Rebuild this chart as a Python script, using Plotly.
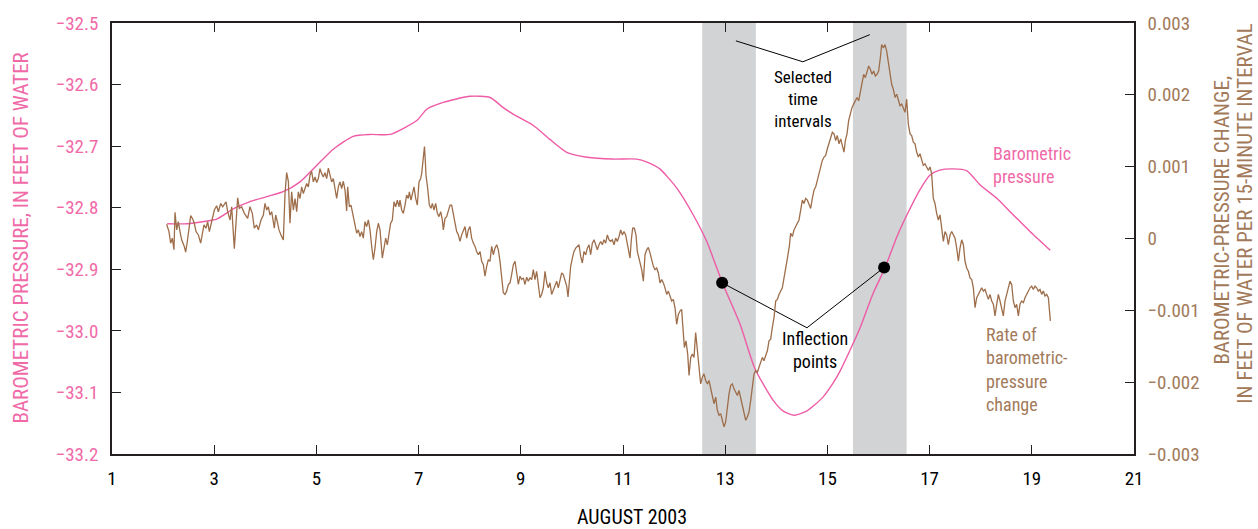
import plotly.graph_objects as go

# ---------------- data ----------------
# Barometric pressure (feet of water), left axis
press_day = [2.08, 2.47, 3.06, 3.37, 3.70, 4.35, 4.68, 5.01, 5.33, 5.72, 6.05, 6.44, 6.97, 7.16,
             7.48, 8.01, 8.40, 8.65, 8.85, 9.24, 9.57, 9.90, 10.30, 10.80, 11.27, 11.47, 11.72,
             12.06, 12.37, 12.64, 12.94, 13.29, 13.58, 13.94, 14.13, 14.35, 14.60, 14.91, 15.11,
             15.25, 15.44, 15.64, 15.89, 16.13, 16.36, 16.56, 16.81, 17.01, 17.20, 17.46, 17.73,
             17.99, 18.32, 18.57, 18.97, 19.36]
press_val = [-32.826, -32.826, -32.818, -32.802, -32.790, -32.774, -32.758, -32.731, -32.705,
             -32.684, -32.681, -32.681, -32.658, -32.640, -32.629, -32.619, -32.621, -32.637,
             -32.648, -32.666, -32.689, -32.710, -32.718, -32.721, -32.721, -32.726, -32.737,
             -32.769, -32.811, -32.855, -32.921, -32.989, -33.061, -33.113, -33.130, -33.137,
             -33.130, -33.108, -33.085, -33.065, -33.032, -32.995, -32.940, -32.897, -32.847,
             -32.811, -32.771, -32.747, -32.739, -32.737, -32.740, -32.763, -32.785, -32.806,
             -32.839, -32.869]

# Rate of barometric-pressure change (thousandths of a foot per 15 minutes), right axis
rate_pairs = [
    (2.07, 0.198), (2.115, 0.096), (2.148, -0.065), (2.181, 0.004), (2.213, -0.157), (2.233, 0.364),
    (2.266, 0.120), (2.298, 0.235), (2.331, 0.096), (2.363, -0.019), (2.415, -0.111), (2.442, -0.189),
    (2.474, -0.042), (2.507, 0.166), (2.54, 0.318), (2.579, 0.272), (2.611, 0.212), (2.644, 0.096),
    (2.69, 0.050), (2.735, -0.065), (2.768, 0.096), (2.8, 0.189), (2.84, 0.143), (2.872, 0.235),
    (2.905, 0.096), (2.937, 0.198), (3.003, 0.396), (3.048, 0.456), (3.081, 0.373), (3.127, 0.488),
    (3.166, 0.442), (3.231, 0.511), (3.264, 0.373), (3.309, 0.258), (3.342, 0.442), (3.394, -0.143),
    (3.427, 0.212), (3.459, 0.567), (3.492, 0.419), (3.537, 0.442), (3.59, 0.350), (3.655, 0.281),
    (3.7, 0.442), (3.746, 0.350), (3.785, 0.143), (3.831, 0.189), (3.864, 0.120), (3.916, 0.258),
    (3.962, 0.327), (3.994, 0.488), (4.027, 0.396), (4.059, 0.442), (4.092, 0.327), (4.125, 0.373),
    (4.177, 0.143), (4.203, 0.327), (4.242, 0.212), (4.268, 0.120), (4.307, 0.050), (4.353, -0.019),
    (4.386, 0.626), (4.418, 0.917), (4.451, 0.797), (4.483, 0.212), (4.516, 0.649), (4.549, 0.396),
    (4.581, 0.557), (4.614, 0.373), (4.646, 0.649), (4.679, 0.557), (4.712, 0.719), (4.744, 0.626),
    (4.777, 0.696), (4.81, 0.765), (4.842, 0.719), (4.875, 0.880), (4.907, 0.935), (4.94, 0.788),
    (4.973, 0.857), (5.005, 0.779), (5.038, 0.834), (5.07, 0.972), (5.103, 0.903), (5.136, 0.857),
    (5.168, 0.917), (5.201, 0.834), (5.234, 0.981), (5.266, 0.903), (5.299, 0.788), (5.331, 0.834),
    (5.364, 0.719), (5.397, 0.557), (5.429, 0.719), (5.462, 0.788), (5.494, 0.696), (5.527, 0.797),
    (5.56, 0.673), (5.592, 0.382), (5.612, 0.719), (5.645, 0.442), (5.677, 0.465), (5.71, 0.350),
    (5.742, 0.212), (5.788, 0.074), (5.821, 0.120), (5.853, 0.027), (5.886, 0.096), (5.918, 0.004),
    (5.951, 0.235), (5.984, 0.166), (6.016, 0.258), (6.049, 0.120), (6.082, -0.111), (6.114, -0.295),
    (6.147, -0.134), (6.18, 0.096), (6.212, 0.212), (6.245, 0.120), (6.29, -0.272), (6.329, -0.111),
    (6.356, 0.004), (6.388, -0.088), (6.421, 0.096), (6.453, 0.212), (6.486, 0.258), (6.519, 0.511),
    (6.551, 0.442), (6.584, 0.534), (6.616, 0.442),
    (6.636, 0.535), (6.669, 0.397), (6.701, 0.350), (6.734, 0.466), (6.766, 0.604), (6.799, 0.558),
    (6.819, 0.650), (6.851, 0.535), (6.884, 0.627), (6.91, 0.719), (6.943, 0.558), (6.975, 0.466),
    (7.008, 0.788), (7.04, 0.834), (7.06, 0.903), (7.08, 1.042), (7.1, 1.18), (7.115, 1.28),
    (7.13, 1.10), (7.145, 0.880), (7.178, 0.696), (7.21, 0.466), (7.243, 0.420), (7.269, 0.489),
    (7.301, 0.397), (7.334, 0.489), (7.367, 0.350), (7.399, 0.304), (7.432, 0.374), (7.464, 0.258),
    (7.484, 0.120), (7.517, 0.281), (7.549, 0.304), (7.582, 0.397), (7.615, 0.466), (7.647, 0.466),
    (7.68, 0.327), (7.712, 0.189), (7.745, 0.097), (7.778, 0.051), (7.81, -0.041), (7.843, 0.051),
    (7.875, 0.120), (7.908, 0.166), (7.941, 0.005), (7.973, 0.120), (8.006, 0.166), (8.038, 0.005),
    (8.071, -0.064), (8.104, -0.110), (8.136, -0.180), (8.169, -0.226), (8.202, -0.180), (8.234, -0.318),
    (8.267, -0.364), (8.299, -0.525), (8.332, -0.387), (8.365, -0.295), (8.397, -0.318), (8.43, -0.110),
    (8.463, -0.226), (8.495, -0.134), (8.528, -0.087), (8.56, -0.157), (8.593, -0.318), (8.626, -0.548),
    (8.658, -0.756), (8.691, -0.779), (8.723, -0.733), (8.756, -0.640), (8.789, -0.617), (8.821, -0.502),
    (8.854, -0.364), (8.887, -0.318), (8.919, -0.456), (8.952, -0.640), (8.984, -0.525), (9.017, -0.571),
    (9.05, -0.548), (9.082, -0.640), (9.115, -0.539), (9.147, -0.594), (9.18, -0.548), (9.213, -0.571),
    (9.245, -0.433), (9.278, -0.571), (9.31, -0.456), (9.343, -0.686), (9.376, -0.825), (9.408, -0.779),
    (9.441, -0.686), (9.474, -0.456), (9.506, -0.617), (9.539, -0.686), (9.571, -0.617), (9.604, -0.779),
    (9.637, -0.709), (9.669, -0.663), (9.702, -0.594), (9.734, -0.686), (9.767, -0.571), (9.8, -0.479),
    (9.832, -0.502), (9.865, -0.571), (9.898, -0.663), (9.924, -0.815), (9.95, -0.594), (9.976, -0.387),
    (10.009, -0.272), (10.041, -0.180), (10.074, -0.134), (10.107, -0.110), (10.139, -0.087),
    (10.172, -0.249), (10.204, -0.341), (10.237, -0.180), (10.27, -0.226), (10.302, -0.134),
    (10.335, -0.087), (10.367, -0.226), (10.4, -0.064), (10.433, -0.018), (10.465, -0.087),
    (10.498, -0.157), (10.53, -0.087), (10.563, -0.041), (10.596, -0.087), (10.628, -0.018),
    (10.661, -0.064), (10.694, 0.051), (10.726, -0.018), (10.759, -0.041), (10.791, -0.018),
    (10.824, -0.087), (10.857, 0.005), (10.889, -0.041), (10.922, 0.028), (10.955, 0.120),
    (10.987, 0.051), (11.02, 0.097), (11.052, 0.051), (11.085, -0.064), (11.118, -0.180),
    (11.137, -0.272), (11.163, -0.018), (11.189, 0.143), (11.222, 0.143), (11.254, 0.051),
    (11.28, -0.180), (11.313, -0.272),
    (11.333, -0.342), (11.366, -0.434), (11.398, -0.595), (11.431, -0.226), (11.463, -0.157),
    (11.496, -0.125), (11.529, -0.203), (11.561, -0.295), (11.594, -0.388), (11.627, -0.434),
    (11.659, -0.411), (11.692, -0.480), (11.724, -0.618), (11.757, -0.572), (11.79, -0.618),
    (11.822, -0.687), (11.855, -0.779), (11.887, -0.733), (11.92, -0.802), (11.953, -0.871),
    (11.985, -0.848), (12.018, -0.964), (12.05, -1.194), (12.083, -1.056), (12.116, -1.010),
    (12.148, -0.987), (12.168, -1.194), (12.201, -1.517), (12.233, -1.425), (12.266, -1.609),
    (12.292, -1.908), (12.325, -1.655), (12.357, -1.609), (12.39, -1.655), (12.422, -1.309),
    (12.455, -1.586), (12.488, -1.862), (12.52, -2.024), (12.553, -1.931), (12.585, -1.885),
    (12.618, -1.977), (12.651, -2.024), (12.683, -1.977), (12.716, -2.093), (12.749, -2.162),
    (12.781, -2.300), (12.814, -2.208), (12.846, -2.392), (12.879, -2.461), (12.912, -2.438),
    (12.944, -2.530), (12.977, -2.623), (13.009, -2.554), (13.042, -2.346), (13.075, -2.162),
    (13.107, -2.047), (13.14, -2.024), (13.172, -2.093), (13.205, -2.139), (13.238, -2.185),
    (13.27, -2.116), (13.303, -2.231), (13.335, -2.323), (13.368, -2.438), (13.401, -2.530),
    (13.433, -2.484), (13.466, -2.415), (13.499, -2.254), (13.531, -2.070), (13.564, -1.885),
    (13.596, -1.839), (13.629, -1.862), (13.662, -1.793), (13.694, -1.724), (13.727, -1.655),
    (13.759, -1.701), (13.792, -1.632), (13.825, -1.563), (13.857, -1.425), (13.89, -1.402),
    (13.922, -1.240), (13.955, -1.102), (13.988, -0.871), (14.02, -0.848), (14.053, -0.779),
    (14.085, -0.733), (14.118, -0.687), (14.151, -0.549), (14.183, -0.434), (14.216, -0.28),
    (14.255, -0.111), (14.281, 0.074), (14.314, 0.028), (14.347, 0.120), (14.379, 0.166),
    (14.412, 0.212), (14.444, 0.258), (14.477, 0.396), (14.51, 0.534), (14.542, 0.488),
    (14.575, 0.557), (14.608, 0.534), (14.64, 0.488), (14.673, 0.419), (14.705, 0.557),
    (14.738, 0.673), (14.771, 0.719), (14.803, 0.811), (14.836, 0.903), (14.868, 1.018),
    (14.901, 1.087), (14.934, 1.134), (14.966, 1.157), (14.999, 1.249), (15.031, 1.318),
    (15.064, 1.410), (15.097, 1.479), (15.129, 1.456), (15.162, 1.364), (15.194, 1.433),
    (15.227, 1.318), (15.26, 1.387), (15.292, 1.295), (15.325, 1.203), (15.351, 1.364),
    (15.384, 1.456), (15.416, 1.640), (15.449, 1.733), (15.482, 1.825), (15.514, 1.871),
    (15.547, 1.917), (15.579, 1.963), (15.612, 1.917), (15.645, 2.032), (15.677, 2.147),
    (15.71, 2.286), (15.743, 2.239), (15.775, 2.332), (15.808, 2.401), (15.84, 2.355),
    (15.873, 2.286), (15.905, 2.332), (15.938, 2.263), (15.971, 2.286), (16.003, 2.332),
    (16.036, 2.516), (16.062, 2.700), (16.095, 2.654), (16.127, 2.700), (16.16, 2.608),
    (16.193, 2.447), (16.225, 2.332), (16.258, 2.147), (16.29, 2.078), (16.323, 1.963),
    (16.356, 2.009), (16.388, 1.917), (16.421, 1.848), (16.454, 1.871), (16.486, 1.802),
    (16.519, 1.756), (16.551, 1.940), (16.584, 1.594), (16.617, 1.456), (16.649, 1.433),
    (16.682, 1.341), (16.714, 1.318), (16.747, 1.203), (16.78, 1.134), (16.812, 1.180),
    (16.845, 1.087), (16.877, 1.018), (16.91, 1.041), (16.943, 0.995), (16.975, 0.949),
    (17.008, 0.995), (17.04, 0.903), (17.073, 0.557), (17.105, 0.488), (17.138, 0.350),
    (17.171, 0.258), (17.204, 0.328),
    (17.237, 0.097), (17.269, -0.041), (17.302, 0.097), (17.334, 0.051), (17.367, -0.087),
    (17.4, 0.051), (17.432, 0.097), (17.465, 0.051), (17.498, 0.005), (17.53, -0.133),
    (17.563, -0.317), (17.595, -0.133), (17.628, -0.018), (17.661, -0.087), (17.693, -0.317),
    (17.726, -0.410), (17.759, -0.456), (17.791, -0.548), (17.824, -0.571), (17.856, -0.686),
    (17.889, -0.963), (17.922, -0.824), (17.954, -0.778), (17.987, -0.732), (18.019, -0.686),
    (18.052, -0.732), (18.085, -0.709), (18.117, -0.778), (18.15, -0.847), (18.182, -0.778),
    (18.215, -0.870), (18.248, -0.916), (18.28, -1.078), (18.313, -0.916), (18.345, -0.778),
    (18.378, -0.870), (18.411, -0.963), (18.443, -1.078), (18.476, -0.870), (18.509, -0.778),
    (18.541, -0.686), (18.574, -0.594), (18.606, -0.640), (18.639, -0.870), (18.672, -0.963),
    (18.704, -0.916), (18.737, -1.078), (18.769, -0.916), (18.802, -0.870), (18.835, -0.893),
    (18.867, -0.824), (18.9, -0.778), (18.932, -0.732), (18.965, -0.686), (18.998, -0.663),
    (19.03, -0.709), (19.063, -0.663), (19.095, -0.686), (19.128, -0.732), (19.161, -0.709),
    (19.193, -0.778), (19.226, -0.732), (19.259, -0.801), (19.291, -0.778), (19.324, -0.824),
    (19.344, -0.963), (19.363, -1.147),
]
rate_day = [p[0] for p in rate_pairs]
rate_val = [p[1] * 0.001 for p in rate_pairs]   # thousandths -> feet

# Selected time intervals (days)
interval_start = [12.55, 15.50]
interval_end = [13.60, 16.55]

# Inflection points on the pressure curve
inflect_day = [12.94, 16.11]
inflect_press = [-32.922, -32.897]

# Leader-line vertices for the two call-outs
inflect_label_vertex = (14.60, -32.995)
select_leader_day = [13.21, 14.52, 15.83]
select_leader_press = [-32.529, -32.563, -32.519]

# Axis ticks
x_ticks = [1, 3, 5, 7, 9, 11, 13, 15, 17, 19, 21]
left_ticks = [-33.2, -33.1, -33.0, -32.9, -32.8, -32.7, -32.6, -32.5]
right_ticks = [-0.003, -0.002, -0.001, 0, 0.001, 0.002, 0.003]
right_tick_text = ["\u22120.003", "\u22120.002", "\u22120.001", "0", "0.001", "0.002", "0.003"]

# ---------------- styling ----------------
PINK = "#EE5BA6"
PINK_TXT = "#F06AA8"
BROWN = "#9E6E4B"
BROWN_TXT = "#A27A5A"
AXIS = "#231F20"
FONT = "Liberation Sans Narrow, Roboto Condensed, Arial Narrow, Roboto, sans-serif"

fig = go.Figure()

fig.add_trace(go.Scatter(x=rate_day, y=rate_val, yaxis="y2", mode="lines",
                         line=dict(color=BROWN, width=1.3), hoverinfo="skip"))
fig.add_trace(go.Scatter(x=press_day, y=press_val, mode="lines",
                         line=dict(color=PINK, width=1.4, shape="spline", smoothing=0.6),
                         hoverinfo="skip"))

# leader lines
fig.add_trace(go.Scatter(x=[inflect_day[0], inflect_label_vertex[0], inflect_day[1]],
                         y=[inflect_press[0], inflect_label_vertex[1], inflect_press[1]],
                         mode="lines", line=dict(color="black", width=1), hoverinfo="skip"))
fig.add_trace(go.Scatter(x=select_leader_day, y=select_leader_press, mode="lines",
                         line=dict(color="black", width=1), hoverinfo="skip"))
fig.add_trace(go.Scatter(x=inflect_day, y=inflect_press, mode="markers",
                         marker=dict(color="black", size=12), hoverinfo="skip"))

for s, e in zip(interval_start, interval_end):
    fig.add_shape(type="rect", xref="x", yref="paper", x0=s, x1=e, y0=0, y1=1,
                  fillcolor="#D1D3D4", line=dict(width=0), layer="below")

ann = []
def txt(x, y, t, color="black", xanchor="center", size=18, xref="x", yref="y", angle=0,
        align="center"):
    ann.append(dict(x=x, y=y, xref=xref, yref=yref, text=t, showarrow=False,
                    xanchor=xanchor, yanchor="middle", textangle=angle, align=align,
                    font=dict(family=FONT, size=size, color=color)))

txt(14.52, -32.623, "Selected<br>time<br>intervals", size=17)
txt(14.76, -33.031, "Inflection<br>points", size=18)
txt(18.20, -32.731, "Barometric<br>pressure", PINK_TXT, "left", 18, align="left")
txt(18.07, -33.062, "Rate of<br>barometric-<br>pressure<br>change", BROWN_TXT, "left", 18,
    align="left")

txt(-0.090, 0.5, "BAROMETRIC PRESSURE, IN FEET OF WATER", PINK_TXT, "center", 21,
    "paper", "paper", -90)
txt(1.0861, 0.5438, "BAROMETRIC-PRESSURE CHANGE,", BROWN_TXT, "center", 21,
    "paper", "paper", -90)
txt(1.1086, 0.5576, "IN FEET OF WATER PER 15-MINUTE INTERVAL", BROWN_TXT, "center", 21,
    "paper", "paper", -90)
txt(0.5088, -0.1452, "AUGUST 2003", "black", "center", 20, "paper", "paper", 0)

fig.update_layout(
    width=1258, height=529,
    margin=dict(l=112, r=124, t=20, b=75),
    plot_bgcolor="white", paper_bgcolor="white",
    showlegend=False,
    font=dict(family=FONT),
    annotations=ann,
    xaxis=dict(range=[1, 21], tickvals=x_ticks, ticks="inside", ticklen=9, tickwidth=1.3,
               tickcolor=AXIS, showline=True, linecolor=AXIS, linewidth=1.6, mirror="ticks",
               showgrid=False, zeroline=False, tickfont=dict(size=19, color="black"),
               ticklabelstandoff=6),
    yaxis=dict(range=[-33.2, -32.5], tickvals=left_ticks, tickformat=".1f", ticks="inside",
               ticklen=9, tickwidth=1.3, tickcolor=AXIS, showline=True, linecolor=AXIS,
               linewidth=1.6, showgrid=False, zeroline=False,
               tickfont=dict(size=19, color=PINK_TXT), ticklabelstandoff=8),
    yaxis2=dict(range=[-0.003, 0.003], overlaying="y", side="right", tickvals=right_ticks,
                ticktext=right_tick_text, ticks="inside", ticklen=9, tickwidth=1.3,
                tickcolor=AXIS, showline=True, linecolor=AXIS, linewidth=1.6,
                showgrid=False, zeroline=False, tickfont=dict(size=19, color=BROWN_TXT),
                ticklabelstandoff=8),
)

fig.write_html("out.html")
